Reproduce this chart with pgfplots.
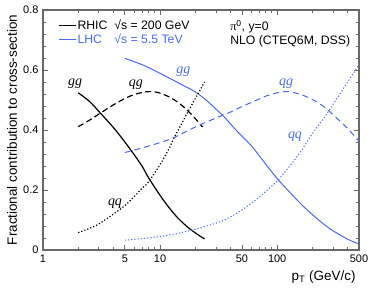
\documentclass[border=0pt]{standalone}
\usepackage{pgfplots}
\pgfplotsset{compat=1.18}
\usepackage{fontspec}
\setmainfont{Liberation Sans}
\newfontfamily\serif{Liberation Serif}
\definecolor{lhcblue}{RGB}{72,104,240}
\definecolor{axgray}{RGB}{105,105,105}

\begin{document}
\begin{tikzpicture}[x=1bp,y=1bp]
\useasboundingbox (0,0) rectangle (374,289);
\begin{axis}[
  at={(43bp,39bp)}, anchor=south west,
  scale only axis, width=316bp, height=240bp,
  xmode=log, xmin=1, xmax=500, ymin=0, ymax=0.8,
  axis line style={axgray, line width=1.2bp},
  tick style={axgray, line width=0.8bp},
  tick align=inside,
  major tick length=5bp, minor tick length=3bp,
  xtick={1,5,10,50,100,500},
  xticklabels={1,5,10,50,100,500},
  minor xtick={2,3,4,6,7,8,9,20,30,40,60,70,80,90,200,300,400},
  ytick={0,0.2,0.4,0.6,0.8},
  yticklabels={0,0.2,0.4,0.6,0.8},
  minor y tick num=4,
  tick label style={font=\fontsize{11}{13}\selectfont},
  xticklabel style={yshift=-1bp},
  yticklabel style={xshift=-1bp},
  xlabel={p\textsubscript{T} (GeV/c)},
  ylabel={Fractional contribution to cross-section},
  xlabel style={at={(axis description cs:1,-0.1125)}, anchor=east, font=\fontsize{13.5}{15}\selectfont},
  ylabel style={at={(axis description cs:-0.098,0.5)}, anchor=center, font=\fontsize{13.5}{15}\selectfont},
  legend style={at={(rel axis cs:0.047,0.965)}, anchor=north west, draw=none, fill=none,
    font=\fontsize{12.3}{14.7}\selectfont, inner sep=0pt, row sep=0.5bp,
    nodes={inner sep=1.3bp}},
  legend cell align=left,
  legend image code/.code={\draw[#1] (0bp,0bp) -- (17bp,0bp);},
]
% RHIC gg
\addplot[black, line width=1.2bp, smooth] coordinates {
(2.0,0.524) (2.5,0.495) (3.0,0.462) (4.0,0.408) (5.0,0.360) (6.0,0.318) (7.0,0.280)
(8.0,0.240) (10.0,0.182) (12.0,0.140) (14.0,0.109) (16.0,0.087) (18.0,0.070)
(20.0,0.057) (22.0,0.046) (24.0,0.037)};
\addlegendentry{RHIC \ √s = 200 GeV}
\addplot[lhcblue, line width=1bp, smooth] coordinates {
(5,0.639) (7,0.618) (9,0.598) (12,0.573) (15,0.553) (20,0.527) (25,0.498) (30,0.470)
(35,0.445) (45,0.398) (60,0.348) (75,0.300) (100,0.238) (130,0.190) (160,0.153)
(200,0.118) (250,0.086) (300,0.064) (400,0.036) (500,0.020)};
\addlegendentry{\textcolor{lhcblue}{\rlap{LHC}\phantom{RHIC} \ √s = 5.5 TeV}}
% RHIC qg
\addplot[black, line width=1.2bp, dash pattern=on 6bp off 3.5bp, smooth] coordinates {
(2.0,0.411) (2.5,0.433) (3.0,0.453) (4.0,0.484) (5.0,0.505) (6.0,0.518) (7.0,0.525)
(8.0,0.528) (9.0,0.527) (10.0,0.523) (12.0,0.510) (14.0,0.494) (16.0,0.476)
(18.0,0.457) (20.0,0.438) (23.0,0.410)};
% RHIC qq
\addplot[black, line width=1.2bp, dash pattern=on 1.2bp off 2bp, smooth] coordinates {
(2.0,0.058) (2.5,0.072) (3.0,0.087) (4.0,0.120) (5.0,0.148) (6.0,0.178) (7.0,0.205)
(8.0,0.228) (10.0,0.285) (12.0,0.340) (13.0,0.370) (15.0,0.415) (17.0,0.455)
(20.0,0.505) (24.0,0.560)};
% LHC qg
\addplot[lhcblue, line width=1bp, dash pattern=on 6bp off 4bp, smooth] coordinates {
(5,0.325) (7,0.340) (10,0.358) (13,0.374) (20,0.410) (30,0.440) (40,0.460) (50,0.478)
(67,0.500) (80,0.513) (100,0.524) (115,0.528) (130,0.527) (160,0.518) (200,0.502)
(250,0.478) (300,0.451) (400,0.405) (500,0.363)};
% LHC qq
\addplot[lhcblue, line width=1bp, dash pattern=on 1.2bp off 2bp, smooth] coordinates {
(5,0.033) (7,0.038) (10,0.045) (14,0.055) (19,0.067) (25,0.080) (33,0.095) (42,0.115)
(55,0.145) (72,0.180) (100,0.230) (130,0.283) (160,0.330) (200,0.388) (250,0.440)
(300,0.485) (400,0.560) (500,0.617)};

\begin{scope}[font=\serif\itshape\fontsize{14}{16}\selectfont]
\node at (axis cs:1.88,0.556) {gg};
\node at (axis cs:6.2,0.55) {qg};
\node at (axis cs:4.12,0.156) {qq};
\node[lhcblue] at (axis cs:15.8,0.594) {gg};
\node[lhcblue] at (axis cs:119,0.556) {qg};
\node[lhcblue] at (axis cs:142,0.378) {qq};
\end{scope}
\node[anchor=west, inner sep=0pt, font=\fontsize{12.3}{14.7}\selectfont] at (rel axis cs:0.592,0.929) {{\serif π}\textsuperscript{0}, y=0};
\node[anchor=west, inner sep=0pt, font=\fontsize{12.3}{14.7}\selectfont] at (rel axis cs:0.592,0.868) {NLO (CTEQ6M, DSS)};
\end{axis}
\end{tikzpicture}
\end{document}
